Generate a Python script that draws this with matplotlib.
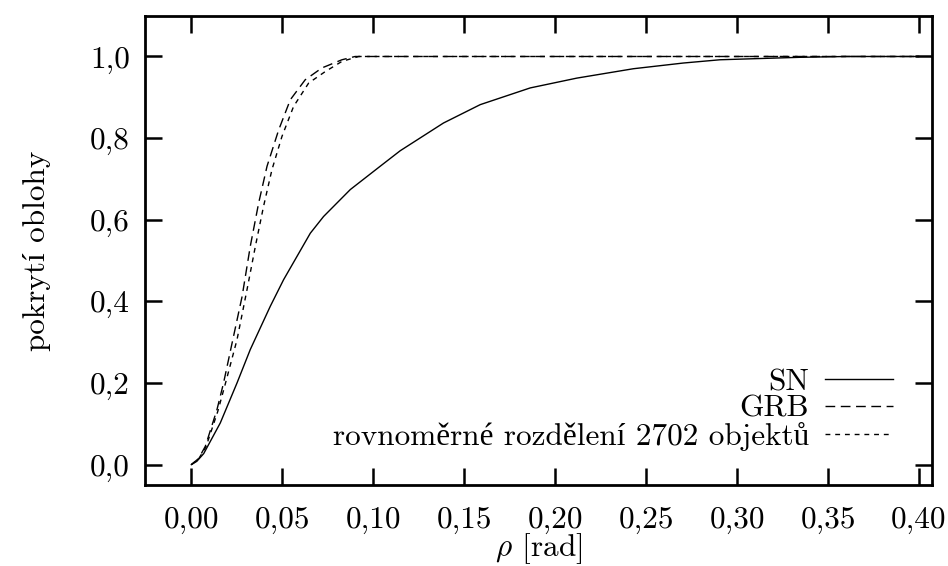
"""Sky coverage vs. angular radius (SN, GRB, uniform distribution)."""

import matplotlib

matplotlib.use("Agg")
import matplotlib.pyplot as plt

# --- data --------------------------------------------------------------
sn_rho = [0.0, 0.003, 0.0068, 0.0159, 0.0251, 0.0324, 0.0434, 0.0507, 0.0654,
          0.0727, 0.0874, 0.1038, 0.1148, 0.1386, 0.1588, 0.1863, 0.2119,
          0.243, 0.2705, 0.2907, 0.3346, 0.36, 0.40]
sn_cov = [0.0, 0.008, 0.027, 0.102, 0.200, 0.282, 0.388, 0.453, 0.567,
          0.608, 0.674, 0.731, 0.769, 0.837, 0.882, 0.923, 0.947,
          0.970, 0.984, 0.992, 0.998, 1.0, 1.0]

grb_rho = [0.0, 0.004, 0.0077, 0.0141, 0.0177, 0.0224, 0.0279, 0.0324, 0.037,
           0.0416, 0.048, 0.0544, 0.0626, 0.0718, 0.0828, 0.09, 0.40]
grb_cov = [0.0, 0.015, 0.045, 0.135, 0.200, 0.298, 0.412, 0.535, 0.641,
           0.731, 0.820, 0.894, 0.943, 0.972, 0.992, 1.0, 1.0]

uni_rho = [0.0, 0.004, 0.008, 0.0145, 0.0185, 0.0251, 0.0306, 0.0352, 0.0397,
           0.0443, 0.0498, 0.0562, 0.0645, 0.0736, 0.0828, 0.092, 0.40]
uni_cov = [0.0, 0.014, 0.043, 0.130, 0.195, 0.306, 0.4286, 0.535, 0.633,
           0.7225, 0.804, 0.8776, 0.935, 0.963, 0.988, 1.0, 1.0]

x_ticks = [0.00, 0.05, 0.10, 0.15, 0.20, 0.25, 0.30, 0.35, 0.40]
y_ticks = [0.0, 0.2, 0.4, 0.6, 0.8, 1.0]
x_tick_labels = ["0,00", "0,05", "0,10", "0,15", "0,20", "0,25", "0,30", "0,35", "0,40"]
y_tick_labels = ["0,0", "0,2", "0,4", "0,6", "0,8", "1,0"]

FS = 22.5

plt.rcParams["font.family"] = ["cmr10", "Liberation Serif"]
plt.rcParams["mathtext.fontset"] = "cm"
plt.rcParams["axes.formatter.use_mathtext"] = True
plt.rcParams["font.size"] = FS

fig = plt.figure(figsize=(9.48, 5.66), dpi=100)
ax = fig.add_axes([0.1533, 0.1431, 0.8295, 0.8292])

ax.plot(sn_rho, sn_cov, color="black", linewidth=1.0, label="SN")
ax.plot(grb_rho, grb_cov, color="black", linewidth=1.0,
        linestyle=(0, (7, 4)), label="GRB")
ax.plot(uni_rho, uni_cov, color="black", linewidth=1.0,
        linestyle=(0, (3.5, 3.5)), label="rovnoměrné rozdělení 2702 objektů")

ax.set_xlim(-0.0253, 0.407)
ax.set_ylim(-0.05, 1.1)
ax.set_xticks(x_ticks)
ax.set_xticklabels(x_tick_labels)
ax.set_yticks(y_ticks)
ax.set_yticklabels(y_tick_labels)
ax.tick_params(direction="in", length=12, width=1.8, top=True, right=True,
               labelsize=FS)
ax.tick_params(axis="x", pad=15)
ax.tick_params(axis="y", pad=11)
for spine in ax.spines.values():
    spine.set_linewidth(2.0)

ax.set_xlabel(r"$\rho$ [rad]", fontsize=FS, labelpad=-2)
ax.set_ylabel("pokrytí oblohy", fontsize=FS, labelpad=28)

ax.legend(loc="lower right", bbox_to_anchor=(0.971, 0.04), frameon=False,
          markerfirst=False, handlelength=2.2, handletextpad=0.5,
          labelspacing=-0.04, borderpad=0, fontsize=FS)

fig.savefig("out.png", dpi=100)
